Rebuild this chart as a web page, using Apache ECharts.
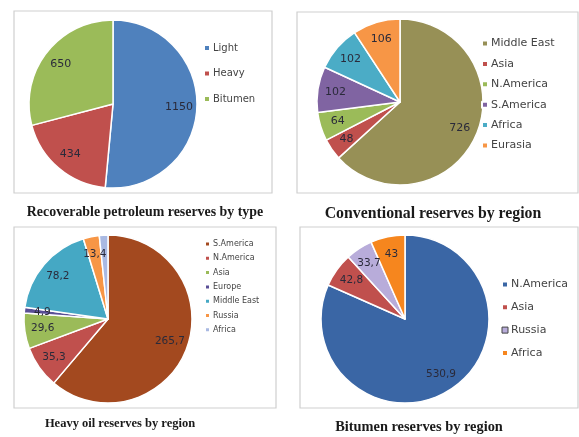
<!DOCTYPE html>
<html><head><meta charset="utf-8">
<script src="https://cdn.jsdelivr.net/npm/echarts@6/dist/echarts.min.js"></script>
<style>html,body{margin:0;padding:0;background:#fff}#c{width:579px;height:437px}</style>
</head><body><div id="c"></div>
<script>
// ---- data ----
const typeNames = ['Light', 'Heavy', 'Bitumen'];
const typeValues = [1150, 434, 650];
const typeColors = ['#4F81BD', '#C0504D', '#9BBB59'];

const convNames = ['Middle East', 'Asia', 'N.America', 'S.America', 'Africa', 'Eurasia'];
const convValues = [726, 48, 64, 102, 102, 106];
const convColors = ['#979056', '#C0504D', '#9BBB59', '#8064A2', '#4BACC6', '#F79646'];

const heavyNames = ['S.America', 'N.America', 'Asia', 'Europe', 'Middle East', 'Russia', 'Africa'];
const heavyValues = [265.7, 35.3, 29.6, 4.9, 78.2, 13.4, 7.2];
const heavyColors = ['#A3491F', '#C0504D', '#9BBB59', '#5A4F96', '#45A8C4', '#F79646', '#A9B9E2'];

const bitNames = ['N.America', 'Asia', 'Russia', 'Africa'];
const bitValues = [530.9, 42.8, 33.7, 43];
const bitColors = ['#3A66A5', '#C0504D', '#B8ACDA', '#F6861E'];

const titles = ['Recoverable petroleum reserves by type', 'Conventional reserves by region',
                'Heavy oil reserves by region', 'Bitumen reserves by region'];

// ---- layout ----
const panels = [
  {names: typeNames, values: typeValues, colors: typeColors, center: [113, 104], r: 84, lfs: 11,
   box: [14, 11, 258, 182], legend: {left: 198, top: 38, gap: 15.5, fs: 10, icon: 6}, title: [140, 208, 13.9]},
  {names: convNames, values: convValues, colors: convColors, center: [400, 102], r: 83, lfs: 11,
   box: [297, 12, 281, 181], legend: {left: 476, top: 33, gap: 9.4, fs: 11, icon: 6}, title: [428, 210, 15.8]},
  {names: heavyNames, values: heavyValues, colors: heavyColors, center: [108, 319], r: 84, lfs: 10.5,
   box: [14, 227, 262, 181], legend: {left: 199, top: 235, gap: 6.3, fs: 8, icon: 5}, title: [115, 420, 12.5]},
  {names: bitNames, values: bitValues, colors: bitColors, center: [405, 319], r: 84, lfs: 10.5,
   box: [300, 227, 278, 181], legend: {left: 496, top: 274, gap: 11.8, fs: 11, icon: 6}, title: [414, 423, 14.4]}
];

const fmt = v => String(v).replace('.', ',');
const series = [], legends = [], titleOpts = [], graphics = [];
panels.forEach((p, i) => {
  const data = p.names.map((n, k) => ({name: n, value: p.values[k],
    itemStyle: {color: p.colors[k]}}));
  series.push({
    type: 'pie', center: p.center, radius: [0, p.r], startAngle: 90, clockwise: true,
    silent: true, animation: false, label: {show: false}, labelLine: {show: false},
    itemStyle: {borderColor: '#fff', borderWidth: 1.5},
    data: data
  });
  // label ring (transparent) so labels sit at ~3/4 radius like the original
  series.push({
    type: 'pie', center: p.center, radius: [p.r * 0.5, p.r], startAngle: 90, clockwise: true,
    silent: true, animation: false, legendHoverLink: false,
    itemStyle: {color: 'rgba(0,0,0,0)', borderWidth: 0},
    label: {show: true, position: 'inside', formatter: d => fmt(d.value),
      color: '#2a2a3a', fontSize: p.lfs, fontFamily: 'DejaVu Sans'},
    labelLine: {show: false},
    data: p.names.map((n, k) => ({name: n, value: p.values[k]}))
  });
  legends.push({
    orient: 'vertical', left: p.legend.left, top: p.legend.top, itemGap: p.legend.gap,
    itemWidth: p.legend.icon, itemHeight: p.legend.icon,
    icon: 'rect', selectedMode: false,
    textStyle: {fontSize: p.legend.fs, color: '#444', fontFamily: 'DejaVu Sans', padding: [0, 0, 0, -2]},
    data: p.names.map((n, k) => ({name: n, itemStyle: (i === 3 && n === 'Russia') ?
      {color: p.colors[k], borderColor: '#444', borderWidth: 1} : {color: p.colors[k]}}))
  });
  titleOpts.push({
    text: titles[i], left: p.title[0], top: p.title[1] - p.title[2] / 2 - 1, textAlign: 'center',
    textStyle: {fontFamily: 'Liberation Serif', fontWeight: 'bold', fontSize: p.title[2], color: '#1a1a1a'}
  });
  graphics.push({type: 'rect', z: -1, shape: {x: p.box[0], y: p.box[1], width: p.box[2], height: p.box[3]},
    style: {fill: '#fff', stroke: '#cfcfcf', lineWidth: 1.2}});
});

const chart = echarts.init(document.getElementById('c'), null, {renderer: 'canvas'});
chart.setOption({
  animation: false, backgroundColor: '#fff',
  title: titleOpts, legend: legends, series: series, graphic: graphics
});
</script></body></html>
